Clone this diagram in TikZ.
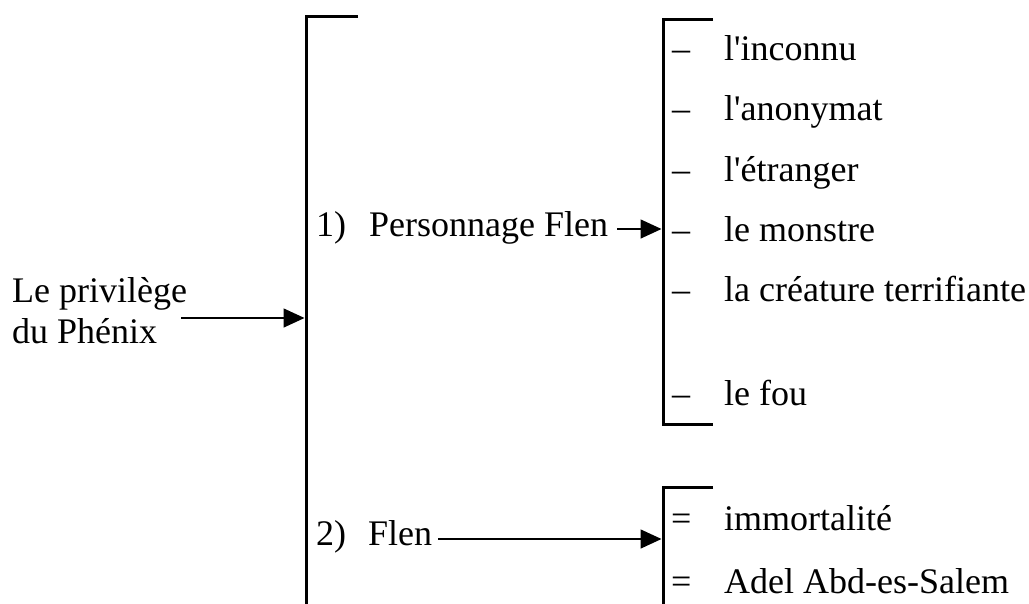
\documentclass[tikz,border=0pt]{standalone}
\usepackage{fontspec}
\setmainfont{Liberation Serif}[Ligatures=TeXOff]
\usetikzlibrary{arrows.meta}
\begin{document}
\begin{tikzpicture}[x=1pt,y=-1pt,
  lbl/.style={anchor=base west, inner sep=0pt, font=\fontsize{36}{43}\selectfont},
  brace/.style={line width=3pt},
  arr/.style={line width=1.6pt, -{Triangle[length=21pt,width=19pt]}}]
\useasboundingbox (0,0) rectangle (1029,603);

% title
\node[lbl] (t1) at (12,302) {Le privilège};
\node[lbl] (t2) at (12,343) {du Phénix};

% the two headings
\node[lbl] (n1) at (316,236) {1)};
\node[lbl] (p1) at (369,236) {Personnage Flen};
\node[lbl] (n2) at (316,545) {2)};
\node[lbl] (p2) at (368,545) {Flen};

% first list
\foreach \y/\t/\k in {60/l'inconnu/1, 120/l'anonymat/2, 181/l'étranger/3,
                      241/le monstre/4, 301/la créature terrifiante/5, 405/le fou/6}{
  \node[lbl] (d\k) at (672,\y) {–};
  \node[lbl] (i\k) at (724,\y) {\t};
}

% second list
\node[lbl] (e1) at (671,530) {=};
\node[lbl] (j1) at (724,530) {immortalité};
\node[lbl] (e2) at (671,593) {=};
\node[lbl] (j2) at (724,593) {Adel Abd-es-Salem};

% brackets
\coordinate (B0a) at (358,16);
\coordinate (B0b) at (306,16);
\coordinate (B0c) at (306,612);
\draw[brace] (B0a) -- (B0b) -- (B0c);

\coordinate (B1a) at (713,19);
\coordinate (B1b) at (663,19);
\coordinate (B1c) at (663,424);
\coordinate (B1d) at (713,424);
\draw[brace] (B1a) -- (B1b) -- (B1c) -- (B1d);

\coordinate (B2a) at (713,487);
\coordinate (B2b) at (663,487);
\coordinate (B2c) at (663,612);
\draw[brace] (B2a) -- (B2b) -- (B2c);

% arrows
\coordinate (a0s) at (181,318);
\coordinate (a0e) at (304.5,318);
\draw[arr] (a0s) -- (a0e);

\coordinate (a1s) at (617,229);
\coordinate (a1e) at (661.5,229);
\draw[arr] (a1s) -- (a1e);

\coordinate (a2s) at (438,539);
\coordinate (a2e) at (661.5,539);
\draw[arr] (a2s) -- (a2e);
\end{tikzpicture}
\end{document}
